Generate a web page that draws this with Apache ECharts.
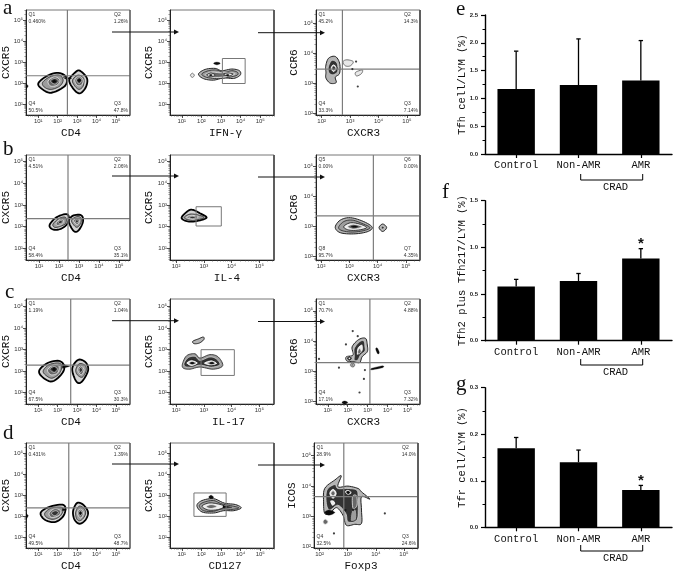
<!DOCTYPE html>
<html><head><meta charset="utf-8">
<style>html,body{margin:0;padding:0;background:#fff}#c{width:675px;height:575px}</style>
<script src="https://cdn.jsdelivr.net/npm/echarts@6/dist/echarts.min.js"></script>
</head><body><div id="c"></div>
<script>
// ---- Bar panels e, f, g ----
const groups = ['Control', 'Non-AMR', 'AMR'];
const tfhMean = [1.17, 1.24, 1.32];
const tfhTop = [1.85, 2.07, 2.04];
const tfh2Mean = [0.58, 0.64, 0.88];
const tfh2Top = [0.657, 0.72, 0.986];
const tfh2Stars = ['', '', '*'];
const tfrMean = [0.17, 0.14, 0.08];
const tfrTop = [0.193, 0.166, 0.09];
const tfrStars = ['', '', '*'];
const tfhStars = ['', '', ''];

// ---- Flow plots: rings are [level, x, y, x, y ...] in log10 units ----
const a1Rings = [
 [0,1.0,1.98,1.43,2.33,2.03,2.49,2.45,2.27,2.37,1.86,1.68,1.54,1.22,1.70],
 [1,1.22,2.02,1.60,2.30,2.08,2.38,2.28,2.14,2.11,1.86,1.68,1.70,1.34,1.79],
 [2,1.51,2.10,1.85,2.30,2.11,2.14,1.97,1.90,1.63,1.86],
 [3,1.63,2.10,1.85,2.22,2.03,2.10,1.85,1.95],
 [4,1.74,2.10,1.85,2.14,1.91,2.06,1.77,2.02],
 [0,2.59,2.14,2.88,2.49,3.14,2.59,3.51,2.22,3.44,1.79,3.14,1.51,2.83,1.70],
 [1,2.76,2.14,3.05,2.38,3.34,2.22,3.31,1.86,3.10,1.70,2.88,1.86],
 [2,2.88,2.14,3.10,2.33,3.31,2.14,3.22,1.90,3.0,1.90],
 [3,2.97,2.14,3.10,2.25,3.24,2.14,3.10,1.98],
 [4,3.03,2.14,3.14,2.21,3.19,2.11,3.09,2.06],
 [4,2.28,2.33,2.54,2.27,2.71,2.22],
 [4,2.71,2.22,2.45,2.17,2.28,2.27],
 [4,0.37,1.98,0.49,1.86,0.37,1.70]
];
const a2Rings = [
 [6,1.85,2.43,2.19,2.65,2.70,2.70,3.04,2.59,3.55,2.67,3.94,2.59,3.98,2.38,3.64,2.22,3.13,2.25,2.62,2.14,2.11,2.21],
 [1,2.02,2.43,2.36,2.59,2.79,2.62,3.13,2.51,3.55,2.59,3.84,2.51,3.81,2.37,3.38,2.27,2.87,2.21,2.28,2.27],
 [2,2.19,2.40,2.53,2.52,2.96,2.49,3.38,2.51,3.72,2.44,3.38,2.33,2.87,2.27,2.45,2.30],
 [7,2.28,2.38,2.48,2.48,2.70,2.38,2.48,2.30],
 [7,3.13,2.43,3.38,2.48,3.60,2.43,3.38,2.33],
 [4,2.40,2.38,2.48,2.42,2.56,2.38,2.48,2.34],
 [4,3.26,2.38,3.34,2.42,3.42,2.38,3.34,2.34],
 [4,2.62,2.94,2.79,3.0,2.96,2.94,2.79,2.87],
 [5,1.44,2.37,1.54,2.47,1.64,2.37,1.54,2.27]
];
const a3Rings = [
 [6,2.14,3.56,2.24,3.83,2.48,3.89,2.63,3.67,2.63,3.33,2.48,3.20,2.51,3.02,2.30,3.0,2.15,3.17,2.15,3.36],
 [3,2.24,3.56,2.36,3.76,2.54,3.67,2.56,3.39,2.39,3.28,2.25,3.36],
 [7,2.30,3.50,2.42,3.64,2.54,3.50,2.42,3.36],
 [3,2.36,3.50,2.42,3.58,2.49,3.50,2.42,3.42],
 [5,2.75,3.72,2.89,3.78,3.11,3.72,3.01,3.58,2.83,3.58],
 [5,3.19,3.36,3.43,3.44,3.40,3.32,3.23,3.24]
];
const a3Dots = [[3.21,3.72],[3.08,3.47],[3.27,2.89]];
const b1Rings = [
 [0,1.53,2.08,1.87,2.43,2.37,2.58,2.50,2.38,2.37,2.08,2.03,1.88,1.67,1.88],
 [1,1.70,2.12,2.0,2.38,2.33,2.43,2.33,2.15,2.03,2.0,1.78,1.97],
 [2,1.87,2.18,2.08,2.35,2.23,2.26,2.12,2.11,1.90,2.06],
 [3,1.97,2.22,2.10,2.29,2.17,2.20,2.03,2.14],
 [0,2.50,2.31,2.73,2.52,3.12,2.52,3.20,2.23,3.0,1.85,2.78,1.77,2.57,2.03],
 [1,2.63,2.31,2.87,2.46,3.08,2.42,3.10,2.18,2.90,1.97,2.70,2.12],
 [2,2.73,2.28,2.90,2.38,3.03,2.28,2.90,2.09],
 [3,2.82,2.26,2.90,2.32,2.97,2.25,2.88,2.17]
];
const b2Rings = [
 [0,2.20,2.43,2.44,2.74,2.62,2.77,2.86,2.62,3.10,2.43,2.92,2.31,2.56,2.23,2.32,2.28],
 [1,2.29,2.43,2.50,2.58,2.80,2.54,3.01,2.42,2.74,2.31,2.44,2.31],
 [2,2.38,2.43,2.56,2.52,2.80,2.46,2.62,2.34],
 [3,2.47,2.43,2.59,2.48,2.72,2.43,2.59,2.37]
];
const b3Rings = [
 [6,2.50,2.98,2.68,3.22,3.04,3.30,3.51,3.17,3.81,2.98,3.63,2.83,3.15,2.76,2.68,2.80],
 [1,2.62,2.98,2.80,3.17,3.10,3.22,3.45,3.11,3.73,2.97,3.51,2.87,3.10,2.82,2.74,2.87],
 [7,2.80,3.0,3.04,3.13,3.39,3.08,3.61,2.97,3.33,2.89,2.98,2.89],
 [2,2.94,3.0,3.15,3.08,3.45,3.0,3.15,2.92],
 [4,3.06,3.0,3.18,3.03,3.30,3.0,3.18,2.97],
 [6,4.05,2.97,4.18,3.09,4.32,2.97,4.18,2.84],
 [3,4.13,2.97,4.18,3.02,4.23,2.97,4.18,2.92]
];
const c1Rings = [
 [0,1.05,2.03,1.48,2.38,2.07,2.48,2.33,2.25,2.24,1.91,1.73,1.52,1.22,1.72],
 [1,1.26,2.03,1.56,2.30,2.07,2.38,2.21,2.19,2.07,1.88,1.70,1.67,1.36,1.83],
 [2,1.48,2.06,1.82,2.30,2.07,2.22,1.99,1.91,1.65,1.83],
 [3,1.60,2.09,1.82,2.22,1.99,2.09,1.82,1.94],
 [4,1.73,2.09,1.83,2.16,1.90,2.09,1.82,2.02],
 [4,2.24,2.33,2.62,2.22,2.24,2.14],
 [0,2.75,2.14,3.06,2.53,3.44,2.41,3.57,2.06,3.35,1.63,3.10,1.44,2.89,1.63],
 [1,2.93,2.06,3.10,2.34,3.40,2.28,3.47,2.03,3.27,1.72,3.01,1.83],
 [2,3.03,2.06,3.18,2.25,3.35,2.06,3.21,1.83],
 [3,3.10,2.06,3.18,2.17,3.28,2.06,3.18,1.94]
];
const c2Rings = [
 [1,2.23,2.34,2.38,2.72,2.68,2.81,2.86,2.61,3.22,2.77,3.52,2.66,3.68,2.25,3.34,2.09,2.86,2.19,2.50,2.09,2.26,2.14],
 [3,2.29,2.38,2.44,2.63,2.68,2.69,2.86,2.5,3.22,2.66,3.46,2.56,3.58,2.30,3.28,2.19,2.86,2.28,2.50,2.19,2.32,2.22],
 [7,2.36,2.38,2.56,2.53,2.80,2.38,2.56,2.22],
 [7,2.98,2.38,3.28,2.52,3.49,2.34,3.22,2.25],
 [3,2.46,2.38,2.58,2.44,2.72,2.38,2.58,2.30],
 [3,3.13,2.38,3.30,2.44,3.40,2.36,3.27,2.31],
 [4,2.52,2.38,2.58,2.41,2.64,2.38,2.58,2.34],
 [4,3.22,2.38,3.30,2.41,3.36,2.37,3.28,2.34],
 [6,2.60,3.39,2.80,3.50,2.98,3.59,3.0,3.47,2.84,3.31,2.65,3.28]
];
const c3Rings = [
 [6,2.27,3.54,2.22,3.81,2.55,4.05,2.89,4.09,2.98,3.87,2.98,3.65,2.72,3.48,2.60,3.29,2.30,3.32,1.96,3.34,1.93,3.48],
 [3,2.33,3.51,2.33,3.76,2.60,3.98,2.81,4.0,2.86,3.81,2.86,3.67,2.64,3.54,2.50,3.37,2.33,3.37],
 [7,2.44,3.54,2.47,3.76,2.72,3.90,2.77,3.70,2.55,3.57],
 [2,2.50,3.65,2.60,3.76,2.67,3.65,2.55,3.57],
 [3,1.95,3.43,2.08,3.52,2.22,3.43,2.08,3.34],
 [7,2.02,3.43,2.08,3.47,2.15,3.43,2.08,3.39],
 [3,2.11,3.21,2.25,3.29,2.37,3.21,2.25,3.13],
 [2,2.18,3.21,2.25,3.25,2.31,3.21,2.25,3.17],
 [4,3.40,3.74,3.48,3.77,3.58,3.62,3.50,3.58],
 [4,3.20,3.10,3.74,3.18,3.74,3.12,3.20,3.05],
 [4,1.71,1.97,1.84,2.02,2.0,1.97,1.84,1.92]
];
const c3Dots = [[2.25,4.33],[2.50,4.16],[1.91,3.89],[0.56,3.41],[1.56,3.12],[2.86,3.04],[2.81,2.75],[2.59,2.30]];
const d1Rings = [
 [0,1.12,2.16,1.51,2.43,2.19,2.56,2.40,2.40,2.28,2.0,1.85,1.73,1.34,1.84],
 [1,1.34,2.16,1.68,2.40,2.19,2.43,2.28,2.27,2.11,2.0,1.77,1.86,1.43,1.95],
 [2,1.56,2.16,1.85,2.37,2.14,2.27,2.07,2.05,1.68,1.95],
 [3,1.68,2.16,1.89,2.27,2.04,2.17,1.85,2.03],
 [4,2.24,2.40,2.45,2.32,2.24,2.27],
 [0,2.79,2.24,2.99,2.63,3.30,2.56,3.56,2.21,3.44,1.84,3.13,1.65,2.87,1.84],
 [1,2.93,2.21,3.10,2.48,3.33,2.40,3.44,2.16,3.30,1.89,3.10,1.79,2.96,1.92],
 [2,3.01,2.16,3.16,2.35,3.33,2.16,3.18,1.92],
 [3,3.08,2.16,3.16,2.27,3.27,2.16,3.16,2.03],
 [4,3.12,2.16,3.17,2.2,3.22,2.16,3.16,2.1],
 [4,0.37,2.16,0.49,2.03,0.37,1.84]
];
const d2Rings = [
 [6,1.77,2.51,2.03,2.75,2.62,2.84,3.17,2.63,3.74,2.56,4.03,2.40,3.65,2.27,3.14,2.27,2.62,2.16,2.03,2.21],
 [1,1.89,2.51,2.15,2.68,2.62,2.75,3.05,2.59,3.65,2.48,3.91,2.40,3.56,2.33,3.05,2.35,2.62,2.24,2.11,2.27],
 [7,2.03,2.48,2.37,2.63,2.79,2.60,3.17,2.48,2.88,2.33,2.37,2.30],
 [2,2.25,2.46,2.49,2.56,2.79,2.48,2.49,2.37],
 [4,3.10,2.51,3.56,2.43,3.10,2.40],
 [4,2.37,2.92,2.50,3.0,2.62,2.90,2.49,2.84]
];
const d3Rings = [
 [6,2.18,3.92,2.54,4.20,2.77,4.34,2.65,3.98,3.01,4.0,3.37,3.92,3.49,3.81,3.79,3.57,3.49,3.65,3.49,3.21,3.49,2.77,3.25,2.74,2.95,2.71,2.83,3.04,2.60,3.29,2.36,3.10,2.18,3.10,2.14,3.48],
 [3,2.26,3.87,2.54,4.05,2.65,3.92,3.01,3.92,3.31,3.87,3.37,3.65,3.37,3.15,3.31,2.88,3.01,2.82,2.93,3.10,2.65,3.37,2.36,3.21,2.24,3.43],
 [7,2.33,3.76,2.48,3.92,2.62,3.76,2.48,3.57],
 [2,2.40,3.76,2.48,3.85,2.55,3.76,2.48,3.68],
 [7,2.89,3.81,3.01,3.89,3.15,3.78,3.01,3.70],
 [4,2.95,3.80,3.01,3.84,3.08,3.79,3.01,3.74],
 [7,2.36,3.51,2.48,3.54,2.57,3.43,2.45,3.34],
 [2,3.17,3.65,3.31,3.68,3.33,3.37,3.19,3.26],
 [1,3.15,3.2,3.3,3.2,3.3,2.9,3.1,2.86],
 [2,2.12,2.82,2.20,2.91,2.30,2.82,2.20,2.74],
 [4,2.18,3.13,2.33,3.21,2.54,3.13,2.33,3.04]
];
const d3Dots = [[4.32,3.10],[2.51,2.44],[2.92,3.21],[3.19,3.21]];

const q1Labels = ['Q1','0.460%','Q2','1.26%','Q4','50.5%','Q3','47.8%'];
const q3Labels = ['Q1','45.2%','Q2','14.3%','Q4','33.3%','Q3','7.14%'];
const q4Labels = ['Q1','4.51%','Q2','2.06%','Q4','58.4%','Q3','35.1%'];
const q6Labels = ['Q5','0.00%','Q6','0.00%','Q8','95.7%','Q7','4.35%'];
const q7Labels = ['Q1','1.19%','Q2','1.04%','Q4','67.5%','Q3','30.3%'];
const q9Labels = ['Q1','70.7%','Q2','4.88%','Q4','17.1%','Q3','7.32%'];
const q10Labels = ['Q1','0.431%','Q2','1.39%','Q4','49.5%','Q3','48.7%'];
const q12Labels = ['Q1','28.9%','Q2','14.0%','Q4','32.5%','Q3','24.6%'];

const plots = [
 {box:[26,10],xr:[.37,5.72],yr:[.48,5.48],xt:[1,5],yt:[1,5],xn:'CD4',yn:'CXCR5',sh:14,gap:14,rings:a1Rings,q:q1Labels,v:2.50,h:2.35},
 {box:[170,10],xr:[.4,5.7],yr:[.48,5.48],xt:[1,5],yt:[1,5],xn:'IFN-γ',yn:'CXCR5',sh:-7,gap:15.5,rings:a2Rings,rect:[3.07,1.98,4.23,3.17]},
 {box:[316,10],xr:[1.8,5.46],yr:[1.94,5.44],xt:[2,5],yt:[2,5],xn:'CXCR3',yn:'CCR6',sh:9,gap:16.5,rings:a3Rings,dots:a3Dots,q:q3Labels,v:2.73,h:3.47},
 {box:[26,155],xr:[.35,5.55],yr:[.46,5.31],xt:[1,5],yt:[1,5],xn:'CD4',yn:'CXCR5',sh:14,gap:14,rings:b1Rings,q:q4Labels,v:2.45,h:2.37},
 {box:[170,155],xr:[1.78,5.53],yr:[.46,5.31],xt:[2,5],yt:[1,5],xn:'IL-4',yn:'CXCR5',sh:-10,gap:15.5,rings:b2Rings,rect:[2.72,2.03,3.63,2.92]},
 {box:[316,155],xr:[1.82,5.5],yr:[1.89,5.39],xt:[2,5],yt:[2,5],xn:'CXCR3',yn:'CCR6',sh:9,gap:16.5,rings:b3Rings,q:q6Labels,v:3.85,h:3.36},
 {box:[26,299],xr:[.37,5.72],yr:[.47,5.36],xt:[1,5],yt:[1,5],xn:'CD4',yn:'CXCR5',sh:14,gap:14,rings:c1Rings,q:q7Labels,v:2.67,h:2.28},
 {box:[170,299],xr:[1.78,5.53],yr:[.47,5.36],xt:[2,5],yt:[1,5],xn:'IL-17',yn:'CXCR5',sh:-13,gap:15.5,rings:c2Rings,rect:[2.90,1.80,4.10,3.0]},
 {box:[316,299],xr:[.41,5.62],yr:[1.92,5.39],xt:[1,5],yt:[2,5],xn:'CXCR3',yn:'CCR6',sh:9,gap:16.5,rings:c3Rings,dots:c3Dots,q:q9Labels,v:3.11,h:3.29},
 {box:[26,443],xr:[.37,5.72],yr:[.5,5.48],xt:[1,5],yt:[1,5],xn:'CD4',yn:'CXCR5',sh:14,gap:14,rings:d1Rings,q:q10Labels,v:2.57,h:2.40},
 {box:[170,443],xr:[.4,5.7],yr:[.5,5.48],xt:[1,5],yt:[1,5],xn:'CD127',yn:'CXCR5',sh:-6,gap:15.5,rings:d2Rings,rect:[1.62,2.0,3.26,3.11]},
 {box:[314,443],xr:[1.8,5.5],yr:[1.96,5.42],xt:[2,5],yt:[2,5],xn:'Foxp3',yn:'ICOS',sh:10,gap:16.5,rings:d3Rings,dots:d3Dots,q:q12Labels,v:2.86,h:3.65}
];

const PW = 104, PH = 105;
const levels = {
 0:{fill:'#d4d4d4',stroke:'#000',lineWidth:1.8},
 1:{fill:'#9d9d9d',stroke:'#222',lineWidth:.8},
 2:{fill:'#686868',stroke:'#eee',lineWidth:.8},
 3:{fill:'#333',stroke:'#ddd',lineWidth:.7},
 4:{fill:'#0a0a0a',stroke:'#0a0a0a',lineWidth:.3},
 5:{fill:'#e8e8e8',stroke:'#555',lineWidth:.8},
 6:{fill:'#b4b4b4',stroke:'#222',lineWidth:1},
 7:{fill:'#eee',stroke:'#111',lineWidth:.8}
};
const sup = {1:'¹',2:'²',3:'³',4:'⁴',5:'⁵'};
const mono = '"Liberation Mono", monospace';

const grid = [], xAxis = [], yAxis = [], series = [], graphic = [];

// closed Catmull-Rom through the ring's points
function closedSpline(pts) {
  if (pts.length < 4) return pts;
  const out = [], n = pts.length;
  for (let i = 0; i < n; i++) {
    const a = pts[(i+n-1)%n], b = pts[i], c = pts[(i+1)%n], d = pts[(i+2)%n];
    for (let s = 0; s < 6; s++) {
      const t = s/6, t2 = t*t, t3 = t2*t;
      out.push([0,1].map(k => .5*(2*b[k] + (c[k]-a[k])*t + (2*a[k]-5*b[k]+4*c[k]-d[k])*t2 + (3*b[k]-a[k]-3*c[k]+d[k])*t3)));
    }
  }
  return out;
}

function axisPair(kind, range, tr, gi, extra) {
  const major = [], minor = [];
  for (let e = Math.floor(range[0]); e <= Math.ceil(range[1]); e++) {
    if (e >= tr[0] && e <= tr[1]) major.push(e);
    for (let m = 2; m < 10; m++) { const v = e + Math.log10(m); if (v > range[0] && v < range[1]) minor.push(v); }
  }
  const target = kind === 'x' ? xAxis : yAxis;
  const pos = kind === 'x' ? 'bottom' : 'left';
  target.push(Object.assign({
    type:'value', gridIndex:gi, position:pos, min:range[0], max:range[1], splitLine:{show:false},
    axisLine:{show:true,onZero:false,lineStyle:{color:'#222',width:1}},
    axisTick:{show:true,length:3,customValues:major,lineStyle:{color:'#222',width:.8}},
    axisLabel:{show:true,customValues:major,fontFamily:'"Liberation Sans"',fontSize:6,color:'#333',margin:3,
      hideOverlap:false,showMinLabel:true,showMaxLabel:true,formatter:v=>'10'+sup[Math.round(v)]}
  }, extra));
  target.push({
    type:'value', gridIndex:gi, position:pos, min:range[0], max:range[1], splitLine:{show:false},
    axisLine:{show:false,onZero:false},
    axisTick:{show:true,length:1.6,customValues:minor,lineStyle:{color:'#444',width:.5}},
    axisLabel:{show:false}
  });
}

plots.forEach((p, i) => {
  const [L, T] = p.box;
  const gi = grid.length;
  grid.push({left:L, top:T, width:PW, height:PH, show:true, borderColor:'#777', borderWidth:1, backgroundColor:'#fff'});
  const ax = xAxis.length;
  const ay = yAxis.length;
  axisPair('x', p.xr, p.xt, gi, {name:p.xn, nameLocation:'middle', nameGap:13, nameMoveOverlap:false,
    nameTextStyle:{fontFamily:mono,fontSize:11,color:'#111',padding:p.sh>0?[0,p.sh,0,0]:[0,0,0,-p.sh]}});
  axisPair('y', p.yr, p.yt, gi, {name:p.yn, nameLocation:'middle', nameGap:p.gap, nameMoveOverlap:false,
    nameTextStyle:{fontFamily:mono,fontSize:11,color:'#111'}});
  series.push({
    type:'custom', coordinateSystem:'cartesian2d', xAxisIndex:ax, yAxisIndex:ay, silent:true, clip:true,
    data:p.rings.map(r=>[r[1],r[2]]),
    renderItem:(params, api) => {
      const r = p.rings[params.dataIndex];
      const pts = [];
      for (let k = 1; k < r.length; k += 2) pts.push(api.coord([r[k], r[k+1]]));
      return {type:'polygon', shape:{points:closedSpline(pts)}, style:Object.assign({}, levels[r[0]])};
    }
  });
  const gateRows = [];
  if (p.v !== undefined) { gateRows.push([p.v,p.yr[0],p.v,p.yr[1]]); gateRows.push([p.xr[0],p.h,p.xr[1],p.h]); }
  if (p.rect) gateRows.push(p.rect);
  series.push({
    type:'custom', coordinateSystem:'cartesian2d', xAxisIndex:ax, yAxisIndex:ay, silent:true,
    data:gateRows,
    encode:{x:[0,2],y:[1,3]},
    renderItem:(params, api) => {
      const a = api.coord([api.value(0), api.value(1)]), b = api.coord([api.value(2), api.value(3)]);
      if (p.rect) return {type:'rect', shape:{x:Math.min(a[0],b[0]),y:Math.min(a[1],b[1]),width:Math.abs(b[0]-a[0]),height:Math.abs(b[1]-a[1])},
        style:{fill:'none',stroke:'#777',lineWidth:1}};
      return {type:'line', shape:{x1:a[0],y1:a[1],x2:b[0],y2:b[1]}, style:{stroke:'#7c7c7c',lineWidth:1.2}};
    }
  });
  if (p.dots) series.push({type:'scatter', xAxisIndex:ax, yAxisIndex:ay, silent:true, data:p.dots, symbolSize:2.2, itemStyle:{color:'#111'}});

  graphic.push({type:'line', shape:{x1:L+PW,y1:T,x2:L+PW,y2:T+PH}, style:{stroke:'#555',lineWidth:i%3===0?1.2:1.8}});
  if (p.q) {
    const put = (t,x,y,al)=>graphic.push({type:'text',style:{text:t,x,y,align:al,verticalAlign:'middle',fontFamily:'"Liberation Sans"',fontSize:5,fill:'#333'}});
    put(p.q[0],L+2.5,T+4.2,'left');  put(p.q[1],L+2.5,T+11.5,'left');
    put(p.q[2],L+88,T+4.2,'left');   put(p.q[3],L+PW-2,T+11.5,'right');
    put(p.q[4],L+2.5,T+PH-11.5,'left'); put(p.q[5],L+2.5,T+PH-4,'left');
    put(p.q[6],L+88,T+PH-11.5,'left');  put(p.q[7],L+PW-2,T+PH-4,'right');
  }
});

function barPanel(top, height, maxV, step, mean, errTop, stars, name) {
  const gi = grid.length;
  grid.push({left:485, top, width:187, height});
  xAxis.push({type:'category', gridIndex:gi, data:groups, boundaryGap:true,
    axisLine:{lineStyle:{color:'#000',width:1.4}}, axisTick:{show:true,alignWithLabel:true,length:4,lineStyle:{color:'#000',width:1.2}},
    axisLabel:{fontFamily:mono,fontSize:10.5,color:'#111',margin:6,interval:0}});
  yAxis.push({type:'value', gridIndex:gi, min:0, max:maxV, interval:step, splitLine:{show:false},
    axisLine:{show:true,lineStyle:{color:'#000',width:1.4}}, axisTick:{show:true,length:4,lineStyle:{color:'#000',width:1.2}},
    minorTick:{show:true,splitNumber:2,length:2.5,lineStyle:{color:'#000',width:1}},
    axisLabel:{fontFamily:'"Liberation Sans"',fontWeight:'bold',fontSize:6,color:'#222',margin:7,formatter:v=>v.toFixed(1)},
    name, nameLocation:'middle', nameGap:17, nameMoveOverlap:false,
    nameTextStyle:{fontFamily:mono,fontSize:10.5,color:'#111'}});
  const xi = xAxis.length-1, yi = yAxis.length-1;
  series.push({type:'bar', xAxisIndex:xi, yAxisIndex:yi, data:mean, barWidth:'60%', silent:true, itemStyle:{color:'#000'}});
  series.push({type:'custom', coordinateSystem:'cartesian2d', xAxisIndex:xi, yAxisIndex:yi, silent:true, z:3,
    data:mean.map((m,i)=>[i,m,errTop[i]]),
    encode:{x:0,y:[1,2]},
    renderItem:(params, api)=>{
      const i = api.value(0);
      const a = api.coord([i, api.value(1)]), b = api.coord([i, api.value(2)]);
      const st = {stroke:'#000',lineWidth:1.3};
      const kids = [
        {type:'line',shape:{x1:a[0],y1:a[1],x2:b[0],y2:b[1]},style:st},
        {type:'line',shape:{x1:b[0]-2.2,y1:b[1],x2:b[0]+2.2,y2:b[1]},style:st}
      ];
      if (stars[i]) kids.push({type:'text',style:{text:stars[i],x:b[0],y:b[1]-5,align:'center',verticalAlign:'middle',fontFamily:'"Liberation Sans"',fontWeight:'bold',fontSize:15,fill:'#111'}});
      return {type:'group',children:kids};
    }});
}
barPanel(15, 139, 2.5, 0.5, tfhMean, tfhTop, tfhStars, 'Tfh cell/LYM (%)');
barPanel(200.7, 140, 1.5, 0.5, tfh2Mean, tfh2Top, tfh2Stars, 'Tfh2 plus Tfh217/LYM (%)');
barPanel(387.7, 139.6, 0.3, 0.1, tfrMean, tfrTop, tfrStars, 'Tfr cell/LYM (%)');

const letters = [['a',3,8],['b',3,149],['c',5,292],['d',3,433],['e',456,9],['f',442,192],['g',456,384]];
letters.forEach(([t,x,y])=>graphic.push({type:'text',style:{text:t,x,y,verticalAlign:'middle',fontFamily:'"Liberation Serif"',fontSize:21,fill:'#111'}}));
const arrows = [[112,179,32],[258,325,32.7],[112,179,176],[258,325,177],[112,179,320.7],[258,325,321.5],[112,179,464],[258,325,465]];
arrows.forEach(([a,b,y])=>{
  graphic.push({type:'line',shape:{x1:a,y1:y,x2:b-3,y2:y},style:{stroke:'#111',lineWidth:1}});
  graphic.push({type:'polygon',shape:{points:[[b,y],[b-5,y-2.5],[b-5,y+2.5]]},style:{fill:'#111'}});
});
const brackets = [[174,180,187],[359,365,372],[545,551,558]];
brackets.forEach(([t,b,ty])=>{
  graphic.push({type:'polyline',shape:{points:[[580.7,t],[580.7,b],[642.7,b],[642.7,t]]},style:{stroke:'#000',fill:'none',lineWidth:1}});
  graphic.push({type:'text',style:{text:'CRAD',x:615.5,y:ty,align:'center',verticalAlign:'middle',fontFamily:mono,fontSize:10.5,fill:'#111'}});
});

const chart = echarts.init(document.getElementById('c'), null, {renderer:'canvas'});
chart.setOption({animation:false, backgroundColor:'#fff', grid, xAxis, yAxis, series,
  graphic:{elements:graphic.map(g=>Object.assign({z:100,silent:true},g))}});
</script></body></html>
